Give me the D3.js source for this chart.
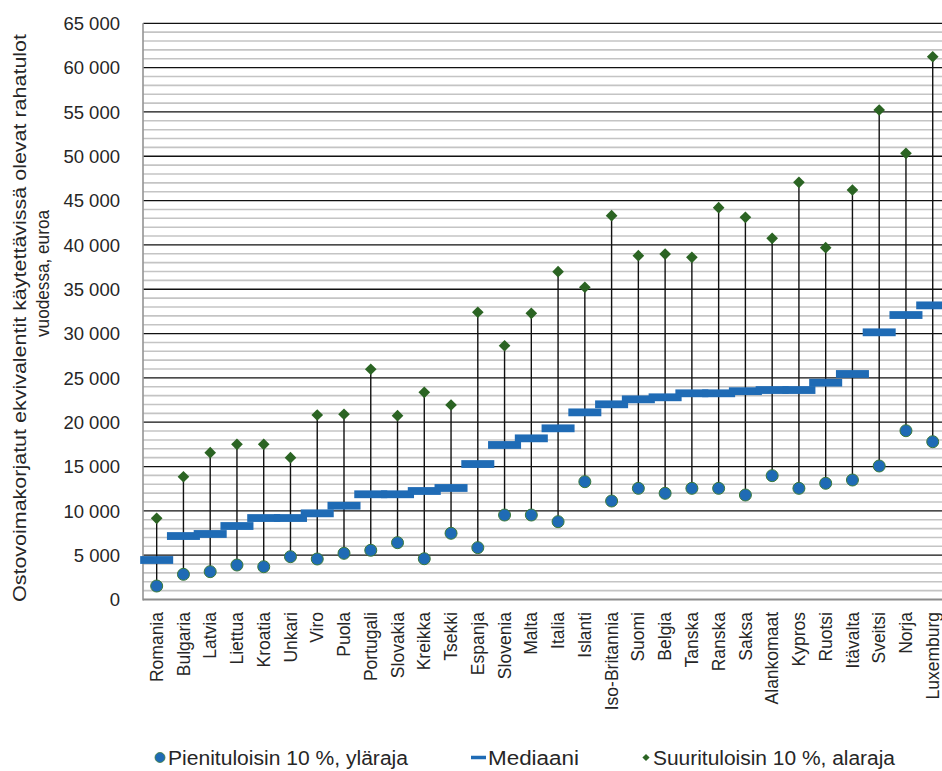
<!DOCTYPE html>
<html><head><meta charset="utf-8">
<script src="https://cdn.jsdelivr.net/npm/d3@7/dist/d3.min.js"></script>
<style>body{margin:0;background:#fff;} text{font-family:"Liberation Sans",Arial,sans-serif;fill:#262626;}</style>
</head><body>
<svg id="c" width="942" height="771"></svg>
<script>
const categories = ["Romania","Bulgaria","Latvia","Liettua","Kroatia","Unkari","Viro","Puola","Portugali","Slovakia","Kreikka","Tsekki","Espanja","Slovenia","Malta","Italia","Islanti","Iso-Britannia","Suomi","Belgia","Tanska","Ranska","Saksa","Alankomaat","Kypros","Ruotsi","Itävalta","Sveitsi","Norja","Luxemburg"];
const lowValues = [1520,2840,3140,3890,3700,4830,4570,5210,5550,6410,4600,7470,5850,9530,9530,8780,13290,11110,12540,11980,12540,12540,11790,13970,12540,13110,13480,15060,19040,17800];
const medianValues = [4456,7160,7390,8290,9190,9190,9720,10580,11870,11870,12240,12580,15280,17430,18180,19310,21110,22020,22580,22810,23260,23260,23500,23630,23630,24460,25440,30140,32090,33180];
const highValues = [9160,13850,16560,17500,17500,16000,20810,20900,25970,20740,23370,21940,32400,28630,32280,36980,35220,43300,38790,38970,38600,44200,43110,40740,47060,39690,46190,55220,50330,61230];
const yTicks = [0,5000,10000,15000,20000,25000,30000,35000,40000,45000,50000,55000,60000,65000];
const legendLabels = ["Pienituloisin 10 %, yläraja","Mediaani","Suurituloisin 10 %, alaraja"];

const svg = d3.select("#c");
const x = d3.scaleBand().domain(categories).range([143.3, 946.1]);
const y = d3.scaleLinear().domain([0, 65000]).range([599.5, 23.3]);
const fmt = v => v === 0 ? "0" : d3.format(",")(v).replace(/,/g, " ");
const blue = "#1f6bb5", green = "#2b6423";

// minor gridlines
const minor = d3.range(1000, 65000, 1000).filter(v => v % 5000 !== 0);
svg.append("g").selectAll("line").data(minor).join("line")
  .attr("x1", 143.3).attr("x2", 942).attr("y1", d => y(d)).attr("y2", d => y(d))
  .attr("stroke", "#c4c4c4").attr("stroke-width", 1.6);
// major gridlines
svg.append("g").selectAll("line").data(yTicks.filter(v => v > 0)).join("line")
  .attr("x1", 143.3).attr("x2", 942).attr("y1", d => y(d)).attr("y2", d => y(d))
  .attr("stroke", "#111").attr("stroke-width", 1.3);
// axis lines
svg.append("line").attr("x1", 143).attr("x2", 143).attr("y1", y(65000)).attr("y2", y(0)+1)
  .attr("stroke", "#8c8c8c").attr("stroke-width", 1.5);
svg.append("line").attr("x1", 143).attr("x2", 942).attr("y1", y(0)).attr("y2", y(0))
  .attr("stroke", "#8c8c8c").attr("stroke-width", 1.8);

// y tick labels
svg.append("g").selectAll("text").data(yTicks).join("text")
  .attr("x", 120).attr("y", d => y(d)).attr("dy", "0.36em")
  .attr("text-anchor", "end").style("font-size", "18.5px").text(fmt);

// y title (two lines)
svg.append("text").attr("transform", "translate(26,318) rotate(-90)")
  .attr("text-anchor", "middle").style("font-size", "19px")
  .attr("textLength", 568).attr("lengthAdjust", "spacingAndGlyphs")
  .text("Ostovoimakorjatut ekvivalentit käytettävissä olevat rahatulot");
svg.append("text").attr("transform", "translate(49,273.5) rotate(-90)")
  .attr("text-anchor", "middle").style("font-size", "19px")
  .attr("textLength", 127).attr("lengthAdjust", "spacingAndGlyphs")
  .text("vuodessa, euroa");

const cx = d => x(d) + x.bandwidth() / 2;
// stems
svg.append("g").selectAll("line").data(categories).join("line")
  .attr("x1", cx).attr("x2", cx)
  .attr("y1", (d, i) => y(lowValues[i])).attr("y2", (d, i) => y(highValues[i]))
  .attr("stroke", "#111").attr("stroke-width", 1.4);
// median bars
svg.append("g").selectAll("rect").data(categories).join("rect")
  .attr("x", d => cx(d) - 16.5).attr("width", 33)
  .attr("y", (d, i) => y(medianValues[i]) - 3.9).attr("height", 7.8)
  .attr("fill", blue);
// low circles
svg.append("g").selectAll("circle").data(categories).join("circle")
  .attr("cx", cx).attr("cy", (d, i) => y(lowValues[i])).attr("r", 6)
  .attr("fill", blue).attr("stroke", "#3b7a3a").attr("stroke-width", 1);
// diamonds
svg.append("g").selectAll("path").data(categories).join("path")
  .attr("transform", (d, i) => `translate(${cx(d)},${y(highValues[i])}) rotate(45)`)
  .attr("d", d3.symbol().type(d3.symbolSquare).size(68)).attr("fill", green);

// x labels
svg.append("g").selectAll("text").data(categories).join("text")
  .attr("transform", d => `translate(${cx(d)},612) rotate(-90)`)
  .attr("text-anchor", "end").attr("dy", "0.35em").style("font-size", "17.5px").text(d => d);

// legend
const ly = 757.5;
const lg = svg.append("g");
lg.append("circle").attr("cx", 160).attr("cy", ly).attr("r", 5).attr("fill", blue).attr("stroke", "#3b7a3a").attr("stroke-width", 0.8);
lg.append("text").attr("x", 168).attr("y", ly).attr("dy", "0.36em").style("font-size", "20px")
  .attr("textLength", 240).attr("lengthAdjust", "spacingAndGlyphs").text(legendLabels[0]);
lg.append("rect").attr("x", 471).attr("y", ly - 1.75).attr("width", 15).attr("height", 3.5).attr("fill", blue);
lg.append("text").attr("x", 488).attr("y", ly).attr("dy", "0.36em").style("font-size", "20px")
  .attr("textLength", 91).attr("lengthAdjust", "spacingAndGlyphs").text(legendLabels[1]);
lg.append("path").attr("transform", `translate(646,${ly}) rotate(45)`).attr("d", d3.symbol().type(d3.symbolSquare).size(26)).attr("fill", green);
lg.append("text").attr("x", 653).attr("y", ly).attr("dy", "0.36em").style("font-size", "20px")
  .attr("textLength", 242).attr("lengthAdjust", "spacingAndGlyphs").text(legendLabels[2]);
</script>
</body></html>
